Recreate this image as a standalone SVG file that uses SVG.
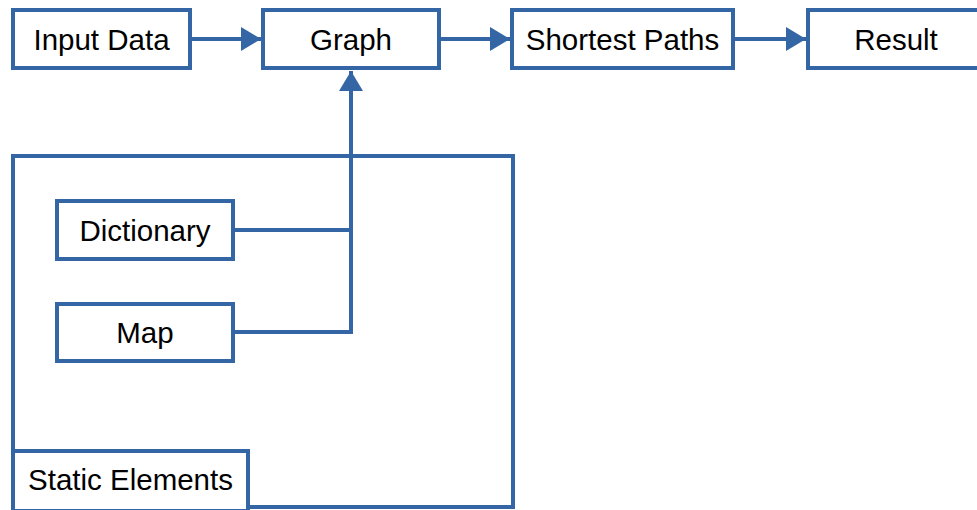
<svg xmlns="http://www.w3.org/2000/svg" width="977" height="510" viewBox="0 0 977 510">
  <style>
    .box { fill: #ffffff; stroke: #3465a4; stroke-width: 4; }
    .frame { fill: none; stroke: #3465a4; stroke-width: 4; }
    .wire { fill: none; stroke: #3465a4; stroke-width: 4; }
    .label { font-family: "Liberation Sans", Arial, sans-serif; font-size: 29.5px; fill: #000000; text-anchor: middle; }
  </style>
  <defs>
    <marker id="arrow" markerUnits="userSpaceOnUse" markerWidth="22" markerHeight="24" refX="20" refY="12" orient="auto">
      <path d="M0,0 L20,12 L0,24 Z" fill="#3465a4"/>
    </marker>
  </defs>

  <rect width="977" height="510" fill="#ffffff"/>

  <!-- container for the static elements -->
  <g id="static-elements">
    <rect class="frame" x="13" y="156" width="500" height="351"/>
    <rect class="box" x="13" y="451" width="235" height="60"/>
    <text class="label" x="130.5" y="490">Static Elements</text>
  </g>

  <g id="input-data">
    <rect class="box" x="13" y="10" width="177" height="58"/>
    <text class="label" x="101.5" y="49.5">Input Data</text>
  </g>

  <g id="graph">
    <rect class="box" x="263" y="10" width="176" height="58"/>
    <text class="label" x="351" y="49.5">Graph</text>
  </g>

  <g id="shortest-paths">
    <rect class="box" x="512" y="10" width="221" height="58"/>
    <text class="label" x="622.5" y="49.5">Shortest Paths</text>
  </g>

  <g id="result">
    <rect class="box" x="808" y="10" width="180" height="58"/>
    <text class="label" x="896" y="49.5">Result</text>
  </g>

  <g id="dictionary">
    <rect class="box" x="57" y="201" width="176" height="58"/>
    <text class="label" x="145" y="240.5">Dictionary</text>
  </g>

  <g id="map">
    <rect class="box" x="57" y="304" width="176" height="57"/>
    <text class="label" x="145" y="343">Map</text>
  </g>

  <!-- connectors -->
  <g id="connectors">
    <line class="wire" x1="192" y1="39" x2="261" y2="39" marker-end="url(#arrow)"/>
    <line class="wire" x1="441" y1="39" x2="510" y2="39" marker-end="url(#arrow)"/>
    <line class="wire" x1="735" y1="39" x2="806" y2="39" marker-end="url(#arrow)"/>
    <polyline class="wire" points="235,332 351,332 351,71" marker-end="url(#arrow)"/>
    <line class="wire" x1="235" y1="230" x2="351" y2="230"/>
  </g>
</svg>
